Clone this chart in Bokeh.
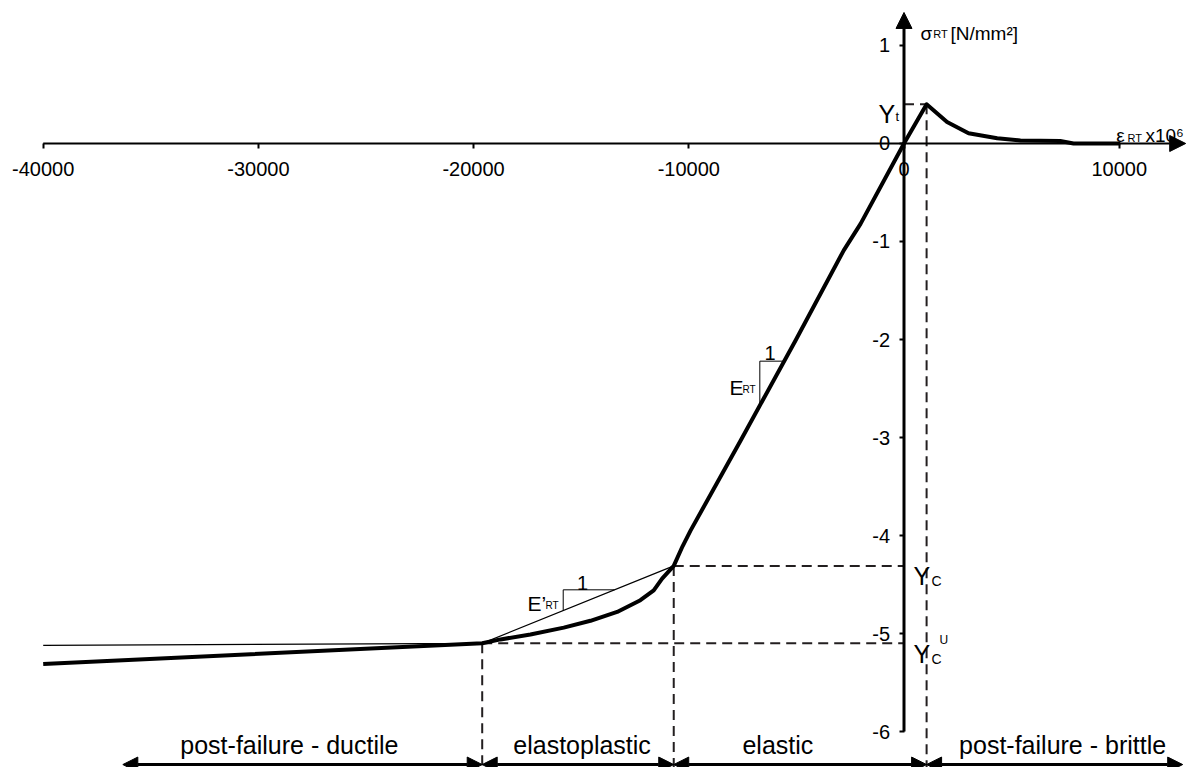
from bokeh.plotting import figure
from bokeh.models import (Range1d, LinearAxis, FixedTicker, Arrow, NormalHead,
                          Label, ColumnDataSource)
from bokeh.embed import file_html
from bokeh.resources import INLINE

# ---------------- data ----------------
# main stress-strain curve (strain x10^6, stress N/mm^2)
strain = [-40000, -19600, -18750, -17360, -15810, -14570, -13330, -12250, -11630,
          -11240, -10700, -10290, -9920, -7590, -5040, -2800, -2020, 0,
          1050, 2000, 3000, 4330, 5410, 7260, 7880, 10050]
stress = [-5.31, -5.10, -5.06, -5.01, -4.94, -4.87, -4.78, -4.66, -4.56,
          -4.44, -4.31, -4.11, -3.95, -3.03, -2.01, -1.09, -0.82, 0.0,
          0.40, 0.22, 0.105, 0.054, 0.03, 0.025, 0.0, 0.0]

# thin secant line (E'_RT)
secant_strain = [-40000, -19600, -10700]
secant_stress = [-5.12, -5.10, -4.31]

# characteristic points: Yt, Yc, Yc^U
point_names = ["Yt", "Yc", "YcU"]
point_strain = [1050, -10700, -19600]
point_stress = [0.40, -4.31, -5.10]

# axis ticks
x_ticks = [-40000, -30000, -20000, -10000, 0, 10000]
x_tick_labels = ["-40000", "-30000", "-20000", "-10000", "0", "10000"]
y_ticks = [1, 0, -1, -2, -3, -4, -5, -6]
y_tick_labels = ["1", "0", "-1", "-2", "-3", "-4", "-5", "-6"]

# behaviour regions
region_names = ["post-failure - ductile", "elastoplastic", "elastic",
                "post-failure - brittle"]
region_bounds = [-36300, -19600, -10700, 1050, 12950]
region_label_x = [-28560, -14960, -5860, 7370]

# ---------------- figure ----------------
FONT = "Liberation Sans"
INK = "black"
DASH = "#231f20"

p = figure(width=1186, height=767,
           x_range=Range1d(-41984, 13127), y_range=Range1d(-6.367, 1.459),
           x_axis_location=None, y_axis_location=None,
           toolbar_location=None, output_backend="svg", min_border=0)
p.outline_line_color = None
p.background_fill_color = "white"
p.border_fill_color = "white"
p.xgrid.grid_line_color = None
p.ygrid.grid_line_color = None

# axes crossing at the origin
xaxis = LinearAxis(fixed_location=0, ticker=FixedTicker(ticks=x_ticks),
                   major_label_overrides=dict(zip(x_ticks, x_tick_labels)),
                   axis_line_color=None, major_tick_out=5, major_tick_in=0,
                   major_tick_line_width=2, major_tick_line_color=INK,
                   minor_tick_line_color=None,
                   major_label_text_font=FONT, major_label_text_font_size="20px",
                   major_label_text_color=INK, major_label_standoff=14)
p.add_layout(xaxis, "below")

yaxis = LinearAxis(fixed_location=0, ticker=FixedTicker(ticks=y_ticks),
                   major_label_overrides=dict(zip(y_ticks, y_tick_labels)),
                   axis_line_color=None, major_tick_out=5, major_tick_in=0,
                   major_tick_line_width=2, major_tick_line_color=INK,
                   minor_tick_line_color=None,
                   major_label_text_font=FONT, major_label_text_font_size="20px",
                   major_label_text_color=INK, major_label_standoff=9)
p.add_layout(yaxis, "left")

# axis lines with arrow heads
p.add_layout(Arrow(x_start=x_ticks[0], y_start=0, x_end=13090, y_end=0,
                   line_width=2, line_color=INK,
                   end=NormalHead(size=16, fill_color=INK, line_color=INK)))
p.add_layout(Arrow(x_start=0, y_start=y_ticks[-1], x_end=0, y_end=1.337,
                   line_width=3, line_color=INK,
                   end=NormalHead(size=16, fill_color=INK, line_color=INK)))

# dashed guide lines
bottom = -6.45
yt, yc, ycu = 0, 1, 2
p.segment(x0=point_strain, y0=point_stress,
          x1=point_strain, y1=[bottom] * 3,
          line_width=2, line_color=DASH, line_dash="10 6")
p.segment(x0=[0, point_strain[yc], point_strain[ycu]],
          y0=point_stress,
          x1=[point_strain[yt], 0, 0],
          y1=point_stress,
          line_width=2, line_color=DASH, line_dash="10 6")

# secant and main curve
p.line(secant_strain, secant_stress, line_width=1.2, line_color=INK)
p.line(strain, stress, line_width=4, line_color=INK, line_join="round")

# slope triangles
p.line([-6700, -6700, -5553], [-2.70, -2.221, -2.221], line_width=1, line_color=INK)
p.line([-15836, -15836, -13450], [-4.77, -4.554, -4.554], line_width=1, line_color=INK)

# region arrows
reg_src = ColumnDataSource(dict(x0=region_bounds[:-1], x1=region_bounds[1:],
                                y=[-6.337] * 4))
p.add_layout(Arrow(x_start="x0", y_start="y", x_end="x1", y_end="y", source=reg_src,
                   line_width=3, line_color=INK,
                   start=NormalHead(size=15, fill_color=INK, line_color=INK),
                   end=NormalHead(size=15, fill_color=INK, line_color=INK)))
for name, xc in zip(region_names, region_label_x):
    p.add_layout(Label(x=xc, y=-6.138, text=name, text_align="center",
                       text_baseline="alphabetic", text_font=FONT,
                       text_font_size="25px", text_color=INK))


def lab(x, y, text, size, align="left"):
    p.add_layout(Label(x=x, y=y, text=text, text_align=align,
                       text_baseline="alphabetic", text_font=FONT,
                       text_font_size=size, text_color=INK))


# axis titles
lab(767, 1.126, "σ", "19px")
lab(1357, 1.116, "RT", "11px")
lab(2161, 1.126, "[N/mm²]", "19px")
lab(9860, 0.082, "ε", "19px")
lab(10385, 0.061, "RT", "11px")
lab(11220, 0.082, "x10⁶", "19px")

# characteristic point labels
lab(-1185, 0.306, "Y", "25px")
lab(-395, 0.276, "t", "13px")
lab(441, -4.408, "Y", "25px")
lab(1278, -4.459, "C", "14px")
lab(441, -5.204, "Y", "25px")
lab(1278, -5.255, "C", "14px")
lab(1650, -5.071, "U", "12px")

# slope labels
lab(-8109, -2.490, "E", "21px")
lab(-7505, -2.510, "RT", "10px")
lab(-6227, -2.133, "1", "20px", "center")
lab(-17495, -4.694, "E’", "21px")
lab(-16659, -4.714, "RT", "10px")
lab(-14940, -4.480, "1", "20px", "center")

open("out.html", "w").write(file_html(p, INLINE))
